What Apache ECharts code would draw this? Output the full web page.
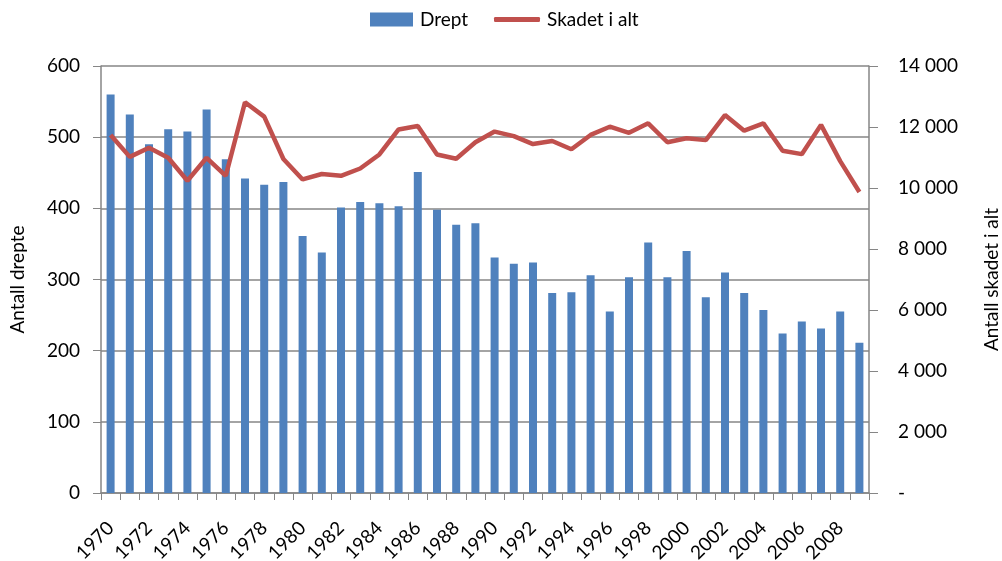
<!DOCTYPE html>
<html><head><meta charset="utf-8">
<script src="https://cdn.jsdelivr.net/npm/echarts@6/dist/echarts.min.js"></script>
<style>html,body{margin:0;padding:0;background:#fff}#c{width:1002px;height:561px}</style>
</head><body><div id="c"></div>
<script>
const years = [];
for (let y = 1970; y <= 2009; y++) years.push(String(y));
const drept = [560,532,490,511,508,539,469,442,433,437,361,338,401,409,407,403,451,398,377,379,331,322,324,281,282,306,255,303,352,303,340,275,310,281,257,224,241,231,255,211];
const skadet = [11740,11020,11320,10990,10240,10990,10400,12810,12340,10950,10280,10460,10400,10640,11100,11920,12030,11100,10960,11500,11850,11700,11440,11540,11270,11740,12010,11810,12120,11500,11630,11570,12390,11880,12120,11220,11110,12070,10880,9870];
const leftTicks = {min:0, max:600, interval:100};
const rightTicks = {min:0, max:14000, interval:2000};

const font = 'Lato, "Open Sans", sans-serif';
const fs = 19;
const gray = '#868686';
const chart = echarts.init(document.getElementById('c'), null, {renderer:'canvas'});
chart.setOption({
  animation:false,
  textStyle:{fontFamily:font},
  legend:[{
    left:370, top:10, itemWidth:43, itemHeight:14, padding:0, itemGap:0,
    textStyle:{fontSize:fs, color:'#000', fontFamily:font, padding:[0,0,0,2]},
    data:[{name:'Drept', icon:'rect'}]
  },{
    left:494, top:10, itemWidth:46, itemHeight:5, padding:0, itemGap:0,
    textStyle:{fontSize:fs, color:'#000', fontFamily:font, padding:[0,0,0,2]},
    data:[{name:'Skadet i alt', icon:'roundRect'}]
  }],
  grid:{left:101, right:133, top:66, bottom:68, containLabel:false, outerBoundsMode:'none'},
  xAxis:{
    type:'category', data:years, boundaryGap:true,
    axisLine:{lineStyle:{color:gray, width:1.5}},
    axisTick:{show:true, length:7, alignWithLabel:false, interval:0, lineStyle:{color:gray}},
    axisLabel:{interval:1, rotate:45, fontSize:fs, color:'#000', margin:32, fontFamily:font}
  },
  yAxis:[{
    type:'value', min:leftTicks.min, max:leftTicks.max, interval:leftTicks.interval,
    name:'Antall drepte', nameLocation:'middle', nameGap:74, nameRotate:90,
    nameTextStyle:{fontSize:fs, color:'#000', fontFamily:font},
    axisLine:{show:true, lineStyle:{color:gray, width:1.5}},
    axisTick:{show:true, length:8, lineStyle:{color:gray}},
    axisLabel:{fontSize:fs, color:'#000', margin:21, fontFamily:font},
    splitLine:{show:true, lineStyle:{color:gray, width:1.5}}
  },{
    type:'value', min:rightTicks.min, max:rightTicks.max, interval:rightTicks.interval,
    position:'right',
    name:'Antall skadet i alt', nameLocation:'middle', nameGap:113, nameRotate:90,
    nameTextStyle:{fontSize:fs, color:'#000', fontFamily:font},
    axisLine:{show:true, lineStyle:{color:gray, width:1.5}},
    axisTick:{show:true, length:9, lineStyle:{color:gray}},
    axisLabel:{fontSize:fs, color:'#000', margin:29, fontFamily:font,
      formatter: v => v === 0 ? '-' : String(v).replace(/\B(?=(\d{3})+(?!\d))/g, '\u00a0')},
    splitLine:{show:false}
  }],
  series:[{
    name:'Drept', type:'bar', data:drept, yAxisIndex:0, barWidth:8,
    itemStyle:{color:'#4F81BD'}
  },{
    name:'Skadet i alt', type:'line', data:skadet, yAxisIndex:1,
    symbol:'none', lineStyle:{color:'#C0504D', width:4.5}, itemStyle:{color:'#C0504D'}
  }]
});
</script></body></html>
